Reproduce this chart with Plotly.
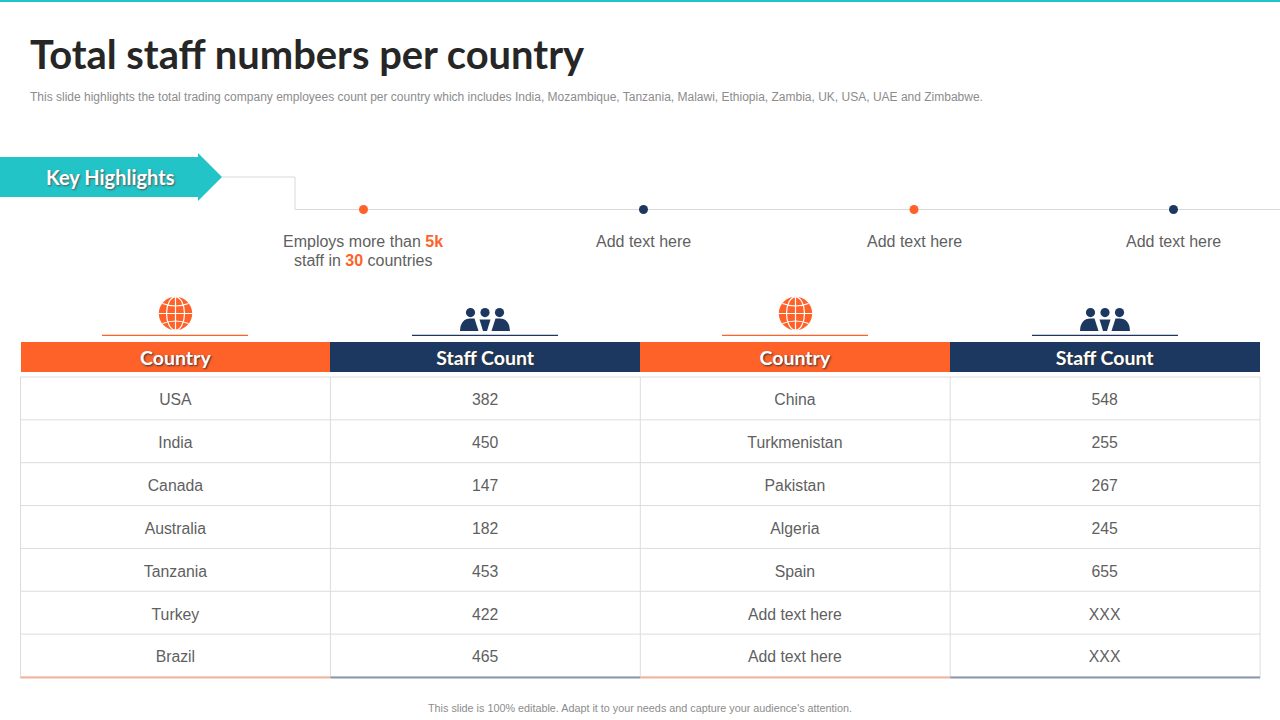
import plotly.graph_objects as go

# table data
left_countries = ["USA", "India", "Canada", "Australia", "Tanzania", "Turkey", "Brazil"]
left_counts = ["382", "450", "147", "182", "453", "422", "465"]
right_countries = ["China", "Turkmenistan", "Pakistan", "Algeria", "Spain", "Add text here", "Add text here"]
right_counts = ["548", "255", "267", "245", "655", "XXX", "XXX"]
headers = ["Country", "Staff Count", "Country", "Staff Count"]

highlights = ["Add text here", "Add text here", "Add text here"]
dot_x = [363.5, 643.5, 914, 1173.5]
dot_colors = ["#FF6229", "#1D3860", "#FF6229", "#1D3860"]

ORANGE = "#FF6229"
NAVY = "#1D3860"
TEAL = "#22C4C8"
GREY = "#D9D9D9"
TEXT = "#5F5F5F"
W, H = 1280, 720
ROW_H = 42.85
TABLE_L, TABLE_R, TABLE_T = 20.5, 1260, 377


def ydom(top, bottom):
    return [1 - bottom / H, 1 - top / H]


fig = go.Figure()

# header band
fig.add_trace(go.Table(
    domain=dict(x=[TABLE_L / W, TABLE_R / W], y=ydom(342, 372.5)),
    columnwidth=[1, 1, 1, 1],
    header=dict(
        values=headers,
        height=30,
        align="center",
        fill_color=[ORANGE, NAVY, ORANGE, NAVY],
        line=dict(width=0, color="white"),
        font=dict(family="Lato", size=19.5, color="white", weight="bold", shadow="1px 1px 2px #333"),
    ),
))

# body rows, table text sits high in its row so the grid is drawn separately
fig.add_trace(go.Table(
    domain=dict(x=[TABLE_L / W, TABLE_R / W], y=ydom(TABLE_T + 8.5, 692)),
    columnwidth=[1, 1, 1, 1],
    header=dict(values=["", "", "", ""], height=0, fill_color="rgba(0,0,0,0)",
                line=dict(width=0, color="rgba(0,0,0,0)")),
    cells=dict(
        values=[left_countries, left_counts, right_countries, right_counts],
        height=ROW_H,
        align="center",
        fill_color="rgba(0,0,0,0)",
        line=dict(width=0, color="rgba(0,0,0,0)"),
        font=dict(family="Liberation Sans", size=15.8, color=TEXT),
    ),
))

# timeline dots
fig.add_trace(go.Scatter(
    x=dot_x, y=[209.5] * 4, mode="markers",
    marker=dict(size=9, color=dot_colors),
    hoverinfo="skip", showlegend=False,
))

shapes = [
    dict(type="rect", x0=0, x1=W, y0=0, y1=2, fillcolor=TEAL, line_width=0),
    dict(type="path", path="M0,157 L198,157 L198,153 L222,177 L198,201 L198,197 L0,197 Z",
         fillcolor=TEAL, line_width=0),
    dict(type="path", path="M222,177 L295,177 L295,209.5 L1280,209.5",
         line=dict(color=GREY, width=1), layer="below"),
]

# grid
for i in range(len(left_countries) + 1):
    y = TABLE_T + i * ROW_H
    shapes.append(dict(type="line", x0=TABLE_L, x1=TABLE_R, y0=y, y1=y,
                       line=dict(color="#DCDCDC", width=1)))
for i in range(5):
    x = TABLE_L + i * 309.9
    shapes.append(dict(type="line", x0=x, x1=x, y0=TABLE_T, y1=678,
                       line=dict(color="#DCDCDC", width=1)))

# underlines above the table and coloured rule below it
for i, cx in enumerate([175, 485, 795, 1105]):
    col = ORANGE if i % 2 == 0 else NAVY
    shapes.append(dict(type="rect", x0=cx - 73, x1=cx + 73, y0=334.8, y1=336,
                       fillcolor=col, line_width=0))
    edge = "#F4B39B" if i % 2 == 0 else "#8A98AB"
    shapes.append(dict(type="line", x0=TABLE_L + i * 309.9, x1=TABLE_L + (i + 1) * 309.9, y0=677.5, y1=677.5,
                       line=dict(color=edge, width=2)))

# globe icons
for cx in [175.5, 795.5]:
    cy, r = 313.5, 16.7
    shapes.append(dict(type="circle", x0=cx - r, x1=cx + r, y0=cy - r, y1=cy + r,
                       fillcolor=ORANGE, line_width=0))
    shapes.append(dict(type="circle", x0=cx - 9, x1=cx + 9, y0=cy - r, y1=cy + r,
                       line=dict(color="white", width=1.2)))
    shapes.append(dict(type="line", x0=cx, x1=cx, y0=cy - r, y1=cy + r,
                       line=dict(color="white", width=1.2)))
    shapes.append(dict(type="line", x0=cx - r, x1=cx + r, y0=cy, y1=cy,
                       line=dict(color="white", width=1.2)))
    shapes.append(dict(type="path", path=f"M{cx-13},{cy-10} Q{cx},{cy-5} {cx+13},{cy-10}",
                       line=dict(color="white", width=1.2)))
    shapes.append(dict(type="path", path=f"M{cx-13},{cy+10} Q{cx},{cy+5} {cx+13},{cy+10}",
                       line=dict(color="white", width=1.2)))

# people icons
for cx in [485, 1105]:
    for off in [-14.5, 14.5, 0]:
        hx = cx + off
        shapes.append(dict(type="circle", x0=hx - 4.6, x1=hx + 4.6, y0=308, y1=317.2,
                           fillcolor=NAVY, line_width=0))
        if off == 0:
            body = f"M{hx-5.5},319.5 L{hx+5.5},319.5 L{hx+2},331 L{hx-2},331 Z"
        elif off < 0:
            body = f"M{hx-10.5},331 Q{hx-10},318.5 {hx},318.5 L{hx+4},318.5 L{hx+8},331 Z"
        else:
            body = f"M{hx+10.5},331 Q{hx+10},318.5 {hx},318.5 L{hx-4},318.5 L{hx-8},331 Z"
        shapes.append(dict(type="path", path=body, fillcolor=NAVY, line_width=0))

annotations = [
    dict(x=28, y=53, text="<b>Total staff numbers per country</b>", xanchor="left",
         font=dict(family="Lato", size=39.9, color="#262626")),
    dict(x=28, y=97, xanchor="left",
         text="This slide highlights the total trading company employees count per country which includes "
              "India, Mozambique, Tanzania, Malawi, Ethiopia, Zambia, UK, USA, UAE and Zimbabwe.",
         font=dict(family="Liberation Sans", size=12, color="#8C8C8C")),
    dict(x=110, y=177, text="<b>Key Highlights</b>",
         font=dict(family="Lato", size=20, color="white", shadow="1px 1px 2px #555")),
    dict(x=363, y=241,
         text=f"Employs more than <b><span style='color:{ORANGE}'>5k</span></b>",
         font=dict(family="Liberation Sans", size=16, color=TEXT)),
    dict(x=363, y=260,
         text=f"staff in <b><span style='color:{ORANGE}'>30</span></b> countries",
         font=dict(family="Liberation Sans", size=16, color=TEXT)),
    dict(x=639.5, y=708, text="This slide is 100% editable. Adapt it to your needs and capture your audience's attention.",
         font=dict(family="Liberation Sans", size=10.8, color="#8C8C8C")),
]
for x, label in zip([643, 914, 1173], highlights):
    annotations.append(dict(x=x, y=241, text=label,
                            font=dict(family="Liberation Sans", size=16, color=TEXT)))
for a in annotations:
    a.update(showarrow=False, xref="x", yref="y")

fig.update_layout(
    width=W, height=H,
    margin=dict(l=0, r=0, t=0, b=0),
    paper_bgcolor="white", plot_bgcolor="white",
    showlegend=False,
    xaxis=dict(range=[0, W], visible=False, fixedrange=True),
    yaxis=dict(range=[H, 0], visible=False, fixedrange=True),
    shapes=shapes,
    annotations=annotations,
)

# page body has a default margin that would push the slide off its edges
fig.write_html("out.html", config={"displayModeBar": False},
               post_script="document.body.style.margin='0';")
